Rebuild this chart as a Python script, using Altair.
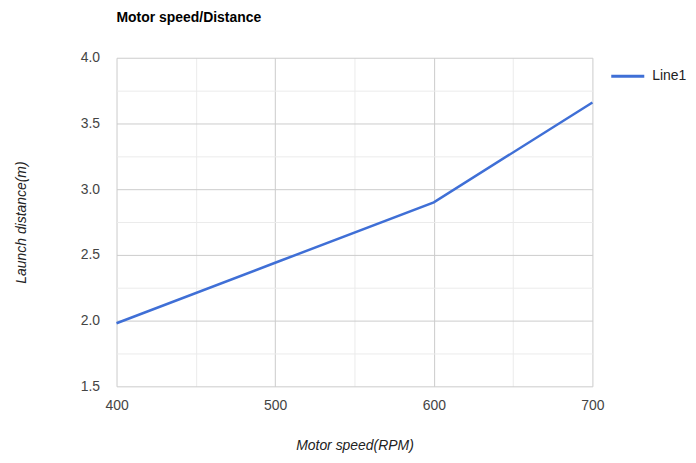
import altair as alt
import pandas as pd

speeds = [400, 500, 600, 700]
distances = [1.98, 2.44, 2.90, 3.66]
series = ["Line1"] * 4

x_ticks = [400, 450, 500, 550, 600, 650, 700]
y_ticks = [1.5, 1.75, 2.0, 2.25, 2.5, 2.75, 3.0, 3.25, 3.5, 3.75, 4.0]

df = pd.DataFrame({"speed": speeds, "dist": distances, "series": series})

FONT = "Liberation Sans"

chart = alt.Chart(df).mark_line(strokeWidth=2.5).encode(
    x=alt.X("speed:Q", scale=alt.Scale(domain=[400, 700], nice=False, zero=False),
            axis=alt.Axis(values=x_ticks, title="Motor speed(RPM)",
                          labelExpr="datum.value % 100 === 0 ? datum.label : ''",
                          gridColor={"condition": {"test": "datum.value % 100 === 0", "value": "#cccccc"}, "value": "#ebebeb"},
                          ticks=False, domain=False, labelPadding=12, labelFontSize=14,
                          labelFlush=False,
                          labelColor="#444444", labelFont=FONT, titleFont=FONT,
                          titleFontSize=14, titleFontStyle="italic", titleFontWeight="normal",
                          titleColor="#222222", titleY=59, titleBaseline="middle")),
    y=alt.Y("dist:Q", scale=alt.Scale(domain=[1.5, 4.0], nice=False, zero=False),
            axis=alt.Axis(values=y_ticks, title="Launch distance(m)", format=".1f",
                          labelExpr="datum.value % 0.5 === 0 ? datum.label : ''",
                          gridColor={"condition": {"test": "datum.value % 0.5 === 0", "value": "#cccccc"}, "value": "#ebebeb"},
                          ticks=False, domain=False, labelPadding=17, labelFontSize=14,
                          labelFlush=False,
                          labelColor="#444444", labelFont=FONT, titleFont=FONT,
                          titleFontSize=14, titleFontStyle="italic", titleFontWeight="normal",
                          titleColor="#222222", titleX=-95, titleY=165, titleBaseline="middle",
                          titleAngle=270)),
    color=alt.Color("series:N", scale=alt.Scale(range=["#3f6fd6"]),
                    legend=alt.Legend(title=None, orient="none", legendX=495, legendY=0,
                                      symbolType="stroke", symbolSize=1100, symbolStrokeWidth=3,
                                      labelFont=FONT, labelFontSize=14, labelColor="#222222",
                                      labelOffset=6)),
).properties(
    width=478, height=330,
    title=alt.TitleParams("Motor speed/Distance", anchor="start", frame="group", font=FONT,
                          fontSize=14, fontWeight="bold", color="#000000", offset=26),
    autosize=alt.AutoSizeParams(type="none"),
    padding={"left": 109, "top": 49, "right": 96, "bottom": 68},
).configure_view(stroke=None)

chart.save("out.html", embed_options={"renderer": "svg", "actions": False})
